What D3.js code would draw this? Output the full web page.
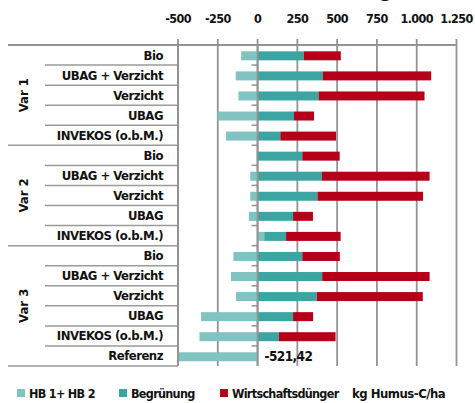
<!DOCTYPE html>
<html>
<head>
<meta charset="utf-8">
<script src="https://cdn.jsdelivr.net/npm/d3@7"></script>
<style>
  body { margin: 0; background: #fff; }
  svg text { font-family: "DejaVu Sans Condensed", "DejaVu Sans", sans-serif; font-weight: bold; fill: #111; }
</style>
</head>
<body>
<svg id="chart" width="475" height="403"></svg>
<script>
// categories, top to bottom
const groups = ["Var 1", "Var 2", "Var 3"];
const measures = ["Bio", "UBAG + Verzicht", "Verzicht", "UBAG", "INVEKOS (o.b.M.)"];
const rows = groups.flatMap(g => measures.map(m => ({ group: g, name: m }))).concat([{ group: "Var 3", name: "Referenz" }]);

// series values, kg Humus-C/ha, same order as rows
const hb = [-103, -137, -120, -252, -198, -5, -46, -46, -55, 42, -152, -167, -136, -355, -365, -521.42];
const begruenung = [290, 410, 383, 229, 143, 281, 404, 376, 223, 137, 281, 406, 372, 223, 133, 0];
const duenger = [233, 681, 666, 126, 350, 235, 677, 664, 125, 343, 236, 675, 666, 126, 357, 0];

const tickValues = [-500, -250, 0, 250, 500, 750, 1000, 1250];
const seriesNames = ["HB 1+ HB 2", "Begrünung", "Wirtschaftsdünger"];
const colors = ["#80c3c1", "#3da5a1", "#b50019"];

const svg = d3.select("#chart");
const mLeft = 178, mRight = 456.5, mTop = 45, mBottom = 366;

const x = d3.scaleLinear().domain([-500, 1250]).range([mLeft, mRight]);
const y = d3.scaleBand().domain(d3.range(rows.length)).range([mTop, mBottom]);
const de = d3.formatLocale({ decimal: ",", thousands: ".", grouping: [3], currency: ["", " €"], minus: "-" });
const fmt = de.format(",");

// title (cut off at top of picture)
svg.append("text").attr("x", 393).attr("y", -3).attr("text-anchor", "end")
  .style("font-size", "22px").text("Humusbilanzierung");

// gridlines + top axis
const gAxis = svg.append("g");
gAxis.selectAll("line.grid").data(tickValues).enter().append("line")
  .attr("x1", d => x(d)).attr("x2", d => x(d))
  .attr("y1", mTop - 6).attr("y2", mBottom)
  .attr("stroke", "#939393").attr("stroke-width", 1.8);
gAxis.selectAll("text").data(tickValues).enter().append("text")
  .attr("x", d => x(d)).attr("y", 22.5).attr("text-anchor", "middle")
  .style("font-size", "12.5px").style("letter-spacing", "-0.6px")
  .text(fmt);

// top line
svg.append("line").attr("x1", 8).attr("x2", mRight).attr("y1", mTop).attr("y2", mTop)
  .attr("stroke", "#939393").attr("stroke-width", 1.8);

// table row separators
svg.selectAll("line.sep").data(d3.range(1, rows.length + 1)).enter().append("line")
  .attr("x1", i => (i === rows.length || (i % 5 === 0 && i < 15)) ? 8 : 45)
  .attr("x2", mLeft)
  .attr("y1", i => y(i - 1) + y.bandwidth()).attr("y2", i => y(i - 1) + y.bandwidth())
  .attr("stroke", "#9a9a9a").attr("stroke-width", 1.5);

// category labels
svg.selectAll("text.cat").data(rows).enter().append("text")
  .attr("x", 163).attr("y", (d, i) => y(i) + y.bandwidth() / 2 + 4.5)
  .attr("text-anchor", "end").style("font-size", "13px").style("letter-spacing", "-0.5px")
  .text(d => d.name);

// group labels
const groupSpan = { "Var 1": [0, 5], "Var 2": [5, 10], "Var 3": [10, 16] };
groups.forEach(g => {
  const cy = (y(groupSpan[g][0]) + y(groupSpan[g][1] - 1) + y.bandwidth()) / 2;
  svg.append("text").attr("transform", `translate(28,${cy}) rotate(-90)`)
    .attr("text-anchor", "middle").style("font-size", "13px").text(g);
});

// stacked bars, negatives go left of zero
const series = [hb, begruenung, duenger];
const bh = 9;
const gBars = svg.append("g");
rows.forEach((r, i) => {
  let pos = 0, neg = 0;
  series.forEach((s, k) => {
    const v = s[i];
    let a, b;
    if (v >= 0) { a = pos; b = pos + v; pos = b; }
    else { a = neg + v; b = neg; neg = a; }
    const x0 = x(Math.max(a, -500)), x1 = x(b);
    if (x1 - x0 <= 0) return;
    gBars.append("rect")
      .attr("x", x0).attr("width", x1 - x0)
      .attr("y", y(i) + y.bandwidth() / 2 - bh / 2 + 0.8).attr("height", bh)
      .attr("fill", colors[k]);
  });
});

// category axis at zero
svg.append("line").attr("x1", x(0)).attr("x2", x(0)).attr("y1", mTop).attr("y2", mBottom)
  .attr("stroke", "#939393").attr("stroke-width", 1.8);
svg.selectAll("line.ctick").data(d3.range(1, rows.length)).enter().append("line")
  .attr("x1", x(0) - 6).attr("x2", x(0))
  .attr("y1", i => y(i)).attr("y2", i => y(i))
  .attr("stroke", "#939393").attr("stroke-width", 1.5);
// left plot border
svg.append("line").attr("x1", mLeft).attr("x2", mLeft).attr("y1", mTop).attr("y2", mBottom)
  .attr("stroke", "#939393").attr("stroke-width", 1.8);

// value label for Referenz
const last = rows.length - 1;
svg.append("text").attr("x", x(0) + 7).attr("y", y(last) + y.bandwidth() / 2 + 5)
  .style("font-size", "13.5px").style("letter-spacing", "-0.6px")
  .text(de.format(".2f")(hb[last]));

// legend
const legX = [17, 119, 220];
seriesNames.forEach((n, k) => {
  svg.append("rect").attr("x", legX[k]).attr("y", 389).attr("width", 8).attr("height", 8).attr("fill", colors[k]);
  svg.append("text").attr("x", legX[k] + 12).attr("y", 397.5)
    .style("font-size", "12.5px").style("letter-spacing", "-0.7px").text(n);
});
svg.append("text").attr("x", 352).attr("y", 397.5)
  .style("font-size", "13px").style("letter-spacing", "-0.5px").text("kg Humus-C/ha");
</script>
</body>
</html>
